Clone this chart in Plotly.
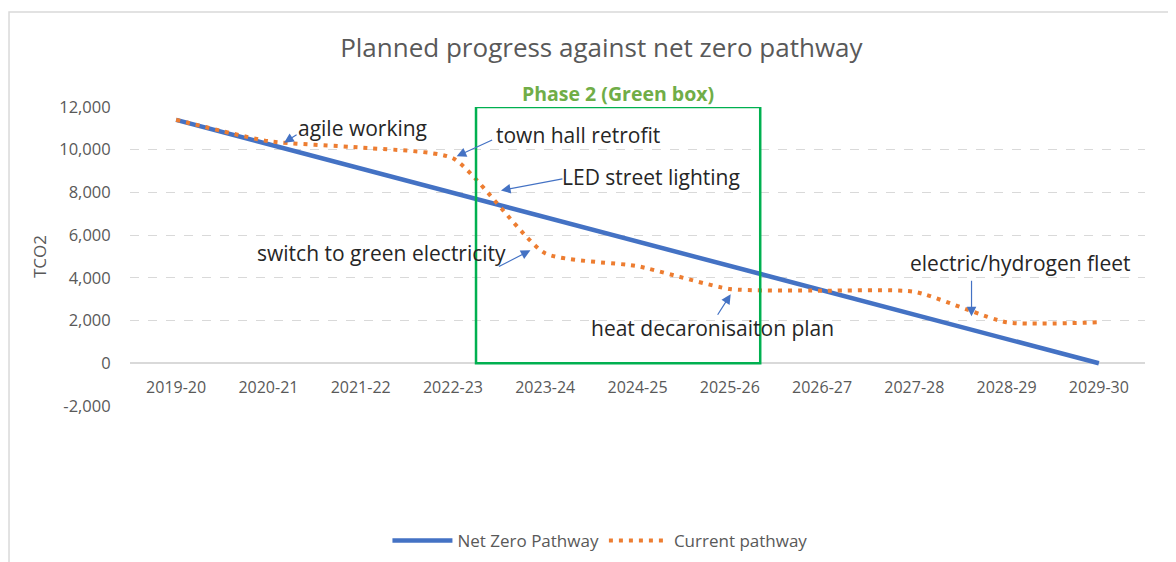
import plotly.graph_objects as go

years = ["2019-20", "2020-21", "2021-22", "2022-23", "2023-24", "2024-25",
         "2025-26", "2026-27", "2027-28", "2028-29", "2029-30"]
net_zero = [11400, 10260, 9120, 7980, 6840, 5700, 4560, 3420, 2280, 1140, 0]
current = [11400, 10400, 10100, 9600, 5150, 4550, 3480, 3400, 3350, 1920, 1920]

y_ticks = [-2000, 0, 2000, 4000, 6000, 8000, 10000, 12000]
y_min, y_max = -2000, 12000

FONT = "Open Sans"
GREY = "#595959"
BLUE = "#4472C4"
ORANGE = "#ED7D31"

fig = go.Figure()
fig.add_trace(go.Scatter(x=list(range(len(years))), y=net_zero, mode="lines",
                         name="Net Zero Pathway",
                         line=dict(color=BLUE, width=4.5)))
fig.add_trace(go.Scatter(x=list(range(len(years))), y=current, mode="lines",
                         name="Current pathway",
                         line=dict(color=ORANGE, width=4, dash="4px,6px", shape="spline",
                                   smoothing=0.55)))

# Phase 2 green box
fig.add_shape(type="rect", xref="x", yref="y", x0=3.25, x1=6.33, y0=0, y1=12000,
              line=dict(color="#00B050", width=2.5), fillcolor="rgba(0,0,0,0)")
fig.add_annotation(x=4.79, y=12000, xref="x", yref="y", yshift=14, showarrow=False,
                   text="<b>Phase 2 (Green box)</b>",
                   font=dict(family=FONT, size=19.5, color="#70AD47"))

# chart border (top and left visible)
fig.add_shape(type="rect", xref="paper", yref="paper", x0=-0.1192, x1=1.1, y0=-0.6, y1=1.3177,
              line=dict(color="#D9D9D9", width=1.5), layer="below")

labels = [
    # text, text x, text y, head x, head y, ax, ay
    ("agile working", 2.02, 11040, 1.17, 10330, 14, -9),
    ("town hall retrofit", 4.36, 10710, 3.04, 9690, 37, -17),
    ("LED street lighting", 5.15, 8700, 3.52, 8090, 63, -12),
    ("switch to green electricity", 2.23, 5150, 3.84, 5290, -33, 17),
    ("heat decaronisaiton plan", 5.81, 1640, 6.01, 3230, -14, 22),
    ("electric/hydrogen fleet", 9.15, 4680, 8.62, 2200, 0, -37),
]
for text, tx, ty, hx, hy, ax, ay in labels:
    fig.add_annotation(x=tx, y=ty, xref="x", yref="y", text=text, showarrow=False,
                       font=dict(family=FONT, size=21, color="#262626"))
    fig.add_annotation(x=hx, y=hy, xref="x", yref="y", text="", showarrow=True,
                       ax=ax, ay=ay, arrowhead=2, arrowsize=1.6, arrowwidth=1.2,
                       arrowcolor=BLUE)

fig.update_layout(
    width=1168, height=554,
    margin=dict(l=122, r=31, t=99, b=156, autoexpand=False),
    paper_bgcolor="white", plot_bgcolor="white",
    title=dict(text="Planned progress against net zero pathway", x=0.508, xanchor="center",
               y=0.9286, yanchor="middle",
               font=dict(family=FONT, size=26, color=GREY)),
    font=dict(family=FONT, color=GREY),
    showlegend=True,
    legend=dict(orientation="h", x=0.463, xanchor="center", y=-0.4515, yanchor="middle",
                font=dict(family=FONT, size=17, color=GREY), itemwidth=60),
    xaxis=dict(tickmode="array", tickvals=list(range(len(years))), ticktext=years,
               range=[-0.5, len(years) - 0.5], showgrid=False, showline=False,
               zeroline=False, ticks="outside", ticklen=10, tickcolor="rgba(0,0,0,0)",
               anchor="free", position=(0 - y_min) / (y_max - y_min),
               tickfont=dict(family=FONT, size=16, color=GREY)),
    yaxis=dict(range=[y_min, y_max], tickmode="array", tickvals=y_ticks,
               ticktext=[f"{v:,}" for v in y_ticks],
               showgrid=True, gridcolor="#D9D9D9", griddash="dash", gridwidth=1,
               zeroline=True, zerolinecolor="#D9D9D9", zerolinewidth=1.5,
               showline=False, ticks="outside", ticklen=15, tickcolor="rgba(0,0,0,0)",
               title=dict(text="TCO2", font=dict(family=FONT, size=17, color=GREY), standoff=8),
               tickfont=dict(family=FONT, size=16.5, color=GREY)),
)

fig.write_html("out.html")
